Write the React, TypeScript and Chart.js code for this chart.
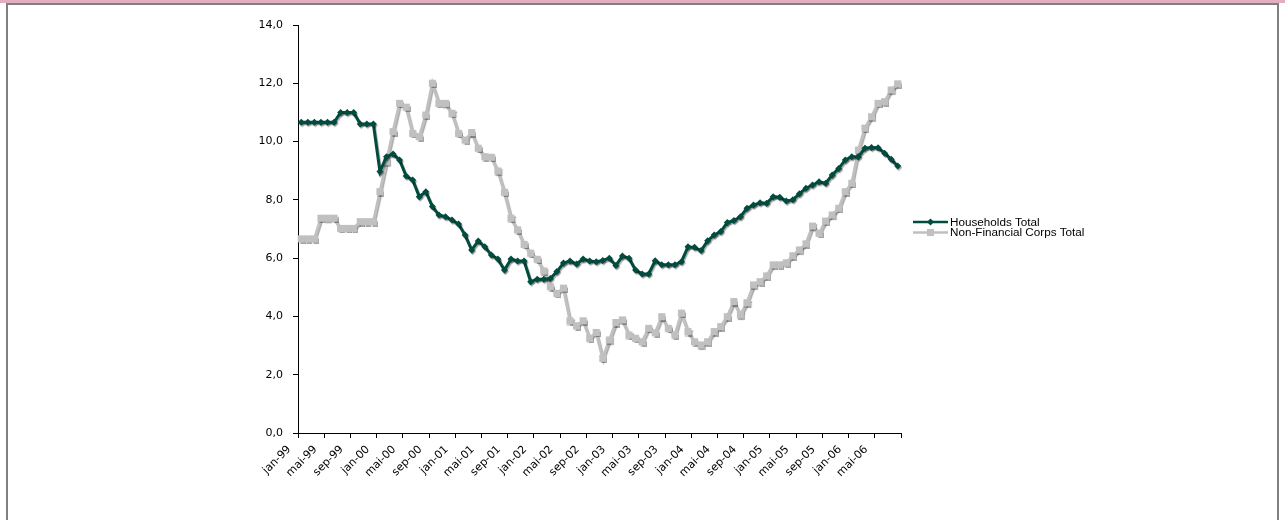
import React, { useEffect, useRef } from 'react';
import { Chart, registerables } from 'chart.js';

Chart.register(...registerables);

// ---- Data -------------------------------------------------------------
const monthNames = ['jan', 'feb', 'mar', 'apr', 'mai', 'jun', 'jul', 'aug', 'sep', 'okt', 'nov', 'des'];
const yearNames = ['99', '00', '01', '02', '03', '04', '05', '06'];
const monthCount = 92; // jan-99 .. aug-06

const categories: string[] = [];
for (const y of yearNames) {
  for (const m of monthNames) {
    if (categories.length < monthCount) categories.push(`${m}-${y}`);
  }
}

const seriesNames = ['Households Total', 'Non-Financial Corps Total'];

const households = [
  10.66, 10.66, 10.66, 10.66, 10.66, 10.66, 11.0, 11.0, 11.0, 10.6, 10.6, 10.6,
  8.97, 9.48, 9.57, 9.37, 8.82, 8.68, 8.11, 8.28, 7.77, 7.48, 7.42, 7.31,
  7.17, 6.79, 6.28, 6.59, 6.39, 6.11, 5.97, 5.59, 5.97, 5.9, 5.9, 5.19,
  5.28, 5.28, 5.3, 5.54, 5.83, 5.9, 5.8, 5.97, 5.9, 5.88, 5.92, 6.0,
  5.75, 6.07, 6.0, 5.59, 5.46, 5.46, 5.91, 5.77, 5.77, 5.77, 5.88, 6.39,
  6.37, 6.26, 6.6, 6.79, 6.91, 7.22, 7.29, 7.42, 7.71, 7.82, 7.9, 7.88,
  8.11, 8.09, 7.96, 8.0, 8.21, 8.4, 8.51, 8.62, 8.57, 8.85, 9.08, 9.37,
  9.48, 9.48, 9.77, 9.8, 9.79, 9.6, 9.39, 9.16,
];

const nonFinancial = [
  6.66, 6.66, 6.66, 7.37, 7.37, 7.37, 7.02, 7.02, 7.02, 7.25, 7.25, 7.25,
  8.28, 9.31, 10.34, 11.31, 11.18, 10.28, 10.17, 10.91, 12.0, 11.31, 11.31, 10.97,
  10.28, 10.05, 10.31, 9.77, 9.48, 9.46, 8.99, 8.26, 7.37, 6.97, 6.47, 6.17,
  5.96, 5.56, 5.02, 4.79, 4.97, 3.85, 3.68, 3.85, 3.25, 3.45, 2.56, 3.19,
  3.79, 3.88, 3.36, 3.25, 3.13, 3.59, 3.44, 3.99, 3.59, 3.36, 4.11, 3.48,
  3.13, 3.02, 3.13, 3.48, 3.65, 3.99, 4.51, 4.05, 4.47, 5.08, 5.19, 5.39,
  5.77, 5.77, 5.84, 6.08, 6.28, 6.49, 7.1, 6.85, 7.27, 7.48, 7.71, 8.28,
  8.57, 9.71, 10.46, 10.85, 11.31, 11.37, 11.77, 11.98,
];

const yMin = 0;
const yMax = 14;
const yStep = 2;
const labelEvery = 4;

// ---- Styles -----------------------------------------------------------
const GREEN = '#004D40';
const GREY = '#C0C0C0';
const AXIS_FONT = { family: 'Verdana, "DejaVu Sans", sans-serif', size: 11 };
const LEGEND_FONT = '11.7px Arial, "Liberation Sans", sans-serif';

const shadowPlugin = {
  id: 'lineShadow',
  beforeDatasetsDraw(chart: any) {
    const c = chart.ctx;
    c.save();
    c.shadowColor = 'rgba(0,0,0,0.35)';
    c.shadowOffsetX = 1;
    c.shadowOffsetY = 1.5;
    c.shadowBlur = 1;
  },
  afterDatasetsDraw(chart: any) {
    chart.ctx.restore();
  },
};

const sideLegend = {
  id: 'sideLegend',
  afterDraw(chart: any) {
    const c = chart.ctx;
    const x0 = 913;
    const x1 = 948;
    const textX = 950;
    const startY = 222;
    const gap = 10.5;
    chart.data.datasets.forEach((ds: any, i: number) => {
      const y = startY + i * gap;
      c.save();
      c.strokeStyle = ds.borderColor;
      c.lineWidth = 2.5;
      c.beginPath();
      c.moveTo(x0, y);
      c.lineTo(x1, y);
      c.stroke();
      const cx = (x0 + x1) / 2;
      c.fillStyle = ds.backgroundColor;
      c.beginPath();
      if (ds.pointStyle === 'rectRot') {
        const r = ds.pointRadius;
        c.moveTo(cx, y - r);
        c.lineTo(cx + r, y);
        c.lineTo(cx, y + r);
        c.lineTo(cx - r, y);
        c.closePath();
      } else {
        const s = ds.pointRadius * Math.SQRT1_2;
        c.rect(cx - s, y - s, 2 * s, 2 * s);
      }
      c.fill();
      c.fillStyle = '#000';
      c.font = LEGEND_FONT;
      c.textAlign = 'left';
      c.textBaseline = 'middle';
      c.fillText(ds.label, textX, y + 0.5);
      c.restore();
    });
  },
};

export default function App() {
  const canvasRef = useRef<HTMLCanvasElement | null>(null);

  useEffect(() => {
    const canvas = canvasRef.current;
    if (!canvas) return;
    const chart = new Chart(canvas, {
      type: 'line',
      data: {
        labels: categories,
        datasets: [
          {
            label: seriesNames[0],
            data: households,
            borderColor: GREEN,
            backgroundColor: GREEN,
            borderWidth: 3,
            pointStyle: 'rectRot',
            pointRadius: 3.5,
            pointBorderWidth: 0,
            tension: 0,
          },
          {
            label: seriesNames[1],
            data: nonFinancial,
            borderColor: GREY,
            backgroundColor: GREY,
            borderWidth: 3,
            pointStyle: 'rect',
            pointRadius: 5,
            pointBorderWidth: 0,
            tension: 0,
          },
        ],
      },
      options: {
        responsive: false,
        animation: false,
        events: [],
        layout: { padding: { left: 0, right: 384, top: 25, bottom: 0 } },
        plugins: {
          legend: { display: false },
          tooltip: { enabled: false },
        },
        scales: {
          x: {
            type: 'category',
            offset: true,
            grid: {
              offset: true,
              drawOnChartArea: false,
              drawTicks: true,
              tickLength: 5,
              tickWidth: 1,
              tickColor: (ctx: any) =>
                ctx.index === undefined || ctx.index % labelEvery === 0 ? '#000' : 'rgba(0,0,0,0)',
            },
            border: { display: true, color: '#000', width: 1 },
            ticks: {
              autoSkip: false,
              maxRotation: 45,
              minRotation: 45,
              labelOffset: -12,
              padding: 5,
              color: '#000',
              font: AXIS_FONT,
              callback: function (this: any, val: any, idx: number) {
                return idx % labelEvery === 0 ? categories[idx] : '';
              },
            },
            afterFit: (s: any) => {
              s.height = 87;
            },
          },
          y: {
            min: yMin,
            max: yMax,
            grid: {
              drawOnChartArea: false,
              drawTicks: true,
              tickLength: 5,
              tickColor: '#000',
            },
            border: { display: true, color: '#000', width: 1 },
            ticks: {
              stepSize: yStep,
              padding: 10,
              color: '#000',
              font: AXIS_FONT,
              callback: (v: any) => Number(v).toFixed(1).replace('.', ','),
            },
            afterFit: (s: any) => {
              s.width = 298;
            },
          },
        },
      },
      plugins: [shadowPlugin, sideLegend],
    } as any);
    return () => chart.destroy();
  }, []);

  return (
    <div
      style={{
        position: 'absolute',
        left: 0,
        top: 0,
        width: 1285,
        height: 520,
        overflow: 'hidden',
        background: '#fff',
      }}
    >
      <div style={{ position: 'absolute', left: 0, top: 0, width: 1285, height: 3, background: '#E3AEC2' }} />
      <div
        style={{
          position: 'absolute',
          left: 6,
          top: 3,
          width: 1273,
          height: 600,
          border: '2px solid #808080',
          boxSizing: 'border-box',
        }}
      />
      <canvas
        ref={canvasRef}
        width={1285}
        height={520}
        style={{ position: 'absolute', left: 0, top: 0, display: 'block' }}
      />
    </div>
  );
}
